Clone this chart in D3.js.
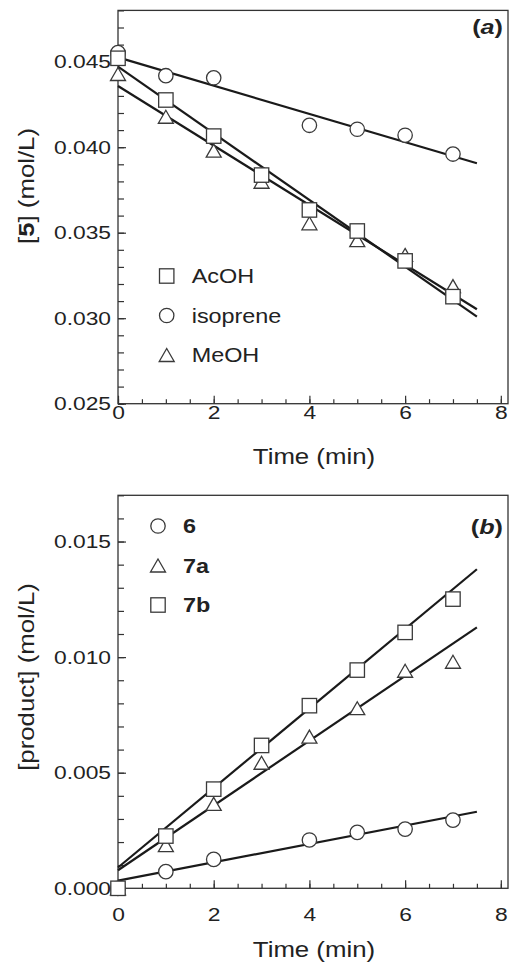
<!DOCTYPE html>
<html>
<head>
<meta charset="utf-8">
<script src="https://cdn.jsdelivr.net/npm/d3@7"></script>
<style>
  body { margin: 0; background: #fff; }
  svg text { font-family: "Liberation Sans", Arial, Helvetica, sans-serif; fill: #222; }
</style>
</head>
<body>
<svg id="chart" width="509" height="965"></svg>
<script>
// ---- panel (a): [5] vs time ----
var times = [0, 1, 2, 3, 4, 5, 6, 7];
var acoh     = [0.04520, 0.04276, 0.04065, 0.03837, 0.03633, 0.03510, 0.03335, 0.03126];
var isoprene = [0.04553, 0.04418, 0.04406, null,    0.04128, 0.04105, 0.04070, 0.03960];
var meoh     = [0.04428, 0.04178, 0.03980, 0.03798, 0.03555, 0.03457, 0.03370, 0.03188];
// straight fits, value at start and end of fitEnds
var fitEnds = [0, 7.5];
var acohFit     = [0.04471, 0.03009];
var isopreneFit = [0.04525, 0.03906];
var meohFit     = [0.04358, 0.03052];
var yTicksA = [0.025, 0.030, 0.035, 0.040, 0.045];

// ---- panel (b): products vs time ----
var prod6  = [0, 0.00072, 0.00125, null,    0.00209, 0.00242, 0.00256, 0.00295];
var prod7a = [0, 0.00187, 0.00365, 0.00543, 0.00656, 0.00779, 0.00941, 0.00980];
var prod7b = [0, 0.00226, 0.00429, 0.00618, 0.00790, 0.00944, 0.01107, 0.01251];
var fit6  = [0.00033, 0.00331];
var fit7a = [0.00078, 0.01129];
var fit7b = [0.00090, 0.01380];
var yTicksB = [0.000, 0.005, 0.010, 0.015];

var xTicks = [0, 2, 4, 6, 8];

var SX = 1.2; // the source type is set wide
var svg = d3.select("#chart");

var x = d3.scaleLinear().domain([0, 8.15]).range([118, 508]);
var yA = d3.scaleLinear().domain([0.025, 0.048]).range([403.7, 10.4]);
var yB = d3.scaleLinear().domain([0, 0.017]).range([888.3, 495.3]);

function stretch(sel) {
  sel.each(function() {
    var t = d3.select(this);
    var xv = +t.attr("x") || 0;
    t.attr("x", xv / SX).attr("transform", "scale(" + SX + ",1)");
  });
}

function drawAxes(y, yTicks, yMinor, xPad) {
  var g = svg.append("g");
  var x0 = x.range()[0], x1 = x.range()[1];
  var y0 = y.range()[0], y1 = y.range()[1];

  // minor ticks first
  g.append("g").attr("transform", "translate(" + x0 + ",0)")
    .call(d3.axisLeft(y).tickValues(yMinor).tickSize(-6).tickFormat(""))
    .call(function(s) { s.select(".domain").remove(); });
  g.append("g").attr("transform", "translate(0," + y0 + ")")
    .call(d3.axisBottom(x).tickValues(d3.range(0, 8.01, 0.5)).tickSize(-4.5).tickFormat(""))
    .call(function(s) { s.select(".domain").remove(); });

  var ya = g.append("g").attr("transform", "translate(" + x0 + ",0)")
    .call(d3.axisLeft(y).tickValues(yTicks).tickSize(-8).tickPadding(7).tickFormat(d3.format(".3f")));
  ya.select(".domain").remove();
  var xa = g.append("g").attr("transform", "translate(0," + y0 + ")")
    .call(d3.axisBottom(x).tickValues(xTicks).tickSize(-8).tickPadding(xPad).tickFormat(d3.format("d")));
  xa.select(".domain").remove();

  g.selectAll(".tick line").attr("stroke", "#333").attr("stroke-width", 1.2);
  g.selectAll(".tick text").attr("font-size", 19).attr("fill", "#222")
    .attr("font-family", "Liberation Sans, Arial, sans-serif");
  stretch(ya.selectAll(".tick text"));
  stretch(xa.selectAll(".tick text"));

  g.append("rect")
    .attr("x", x0).attr("y", y1)
    .attr("width", x1 - x0).attr("height", y0 - y1)
    .attr("fill", "none").attr("stroke", "#333").attr("stroke-width", 1.3);
}

function fitLine(y, vals) {
  svg.append("path")
    .datum(fitEnds.map(function(t, i) { return { t: t, v: vals[i] }; }))
    .attr("fill", "none").attr("stroke", "#1a1a1a").attr("stroke-width", 2.2)
    .attr("d", d3.line().x(function(d) { return x(d.t); }).y(function(d) { return y(d.v); }));
}

function shape(g, kind, cx, cy) {
  var m;
  if (kind === "circle") {
    m = g.append("circle").attr("cx", cx).attr("cy", cy).attr("r", 7.2);
  } else if (kind === "square") {
    m = g.append("rect").attr("x", cx - 7.2).attr("y", cy - 7.2).attr("width", 14.4).attr("height", 14.4);
  } else {
    m = g.append("path").attr("d", "M" + cx + "," + (cy - 6.5) + "L" + (cx + 7.5) + "," + (cy + 6.5) + "L" + (cx - 7.5) + "," + (cy + 6.5) + "Z");
  }
  m.attr("fill", "#fff").attr("stroke", "#3a3a3a").attr("stroke-width", 1.3);
}

function markers(y, vals, kind) {
  var g = svg.append("g");
  times.forEach(function(t, i) {
    if (vals[i] === null) return;
    shape(g, kind, x(t), y(vals[i]));
  });
}

function legend(items, lx, ly, step, bold) {
  var g = svg.append("g");
  items.forEach(function(it, i) {
    shape(g, it[1], lx, ly + i * step);
    var t = g.append("text").attr("x", lx + 25).attr("y", ly + i * step).attr("dy", "0.36em")
      .attr("font-size", 19.5).attr("font-weight", bold ? "bold" : "normal").text(it[0]);
    stretch(t);
  });
}

function panelTag(letter, px, py) {
  var t = svg.append("text").attr("x", px).attr("y", py).attr("text-anchor", "end")
    .attr("font-size", 21).attr("font-weight", "bold");
  t.append("tspan").text("(");
  t.append("tspan").attr("font-style", "italic").text(letter);
  t.append("tspan").text(")");
  stretch(t);
}

function yTitle(cx, cy, parts) {
  var t = svg.append("g").attr("transform", "translate(" + cx + "," + cy + ")")
    .append("text").attr("transform", "rotate(-90) scale(" + SX + ",1)")
    .attr("text-anchor", "middle").attr("dy", "0.36em").attr("font-size", 21.5);
  parts.forEach(function(p) {
    t.append("tspan").attr("font-weight", p[1] ? "bold" : "normal").text(p[0]);
  });
}

function xTitle(cy) {
  var t = svg.append("text").attr("x", 314).attr("y", cy).attr("text-anchor", "middle")
    .attr("font-size", 21.5).text("Time (min)");
  stretch(t);
}

// panel (a)
drawAxes(yA, yTicksA, d3.range(25, 48.5, 1).map(function(v) { return v / 1000; }), 2);
fitLine(yA, isopreneFit);
fitLine(yA, acohFit);
fitLine(yA, meohFit);
markers(yA, isoprene, "circle");
markers(yA, meoh, "triangle");
markers(yA, acoh, "square");
legend([["AcOH", "square"], ["isoprene", "circle"], ["MeOH", "triangle"]], 166.7, 276, 39.5, false);
panelTag("a", 503, 34);
yTitle(26, 186, [["[", false], ["5", true], ["] (mol/L)", false]]);
xTitle(464);

// panel (b)
drawAxes(yB, yTicksB, d3.range(0, 17.5, 1).map(function(v) { return v / 1000; }), 19);
fitLine(yB, fit6);
fitLine(yB, fit7a);
fitLine(yB, fit7b);
markers(yB, prod6, "circle");
markers(yB, prod7a, "triangle");
markers(yB, prod7b, "square");
legend([["6", "circle"], ["7a", "triangle"], ["7b", "square"]], 158, 526, 39.5, true);
panelTag("b", 503, 534);
yTitle(26, 677, [["[product] (mol/L)", false]]);
xTitle(957);
</script>
</body>
</html>
